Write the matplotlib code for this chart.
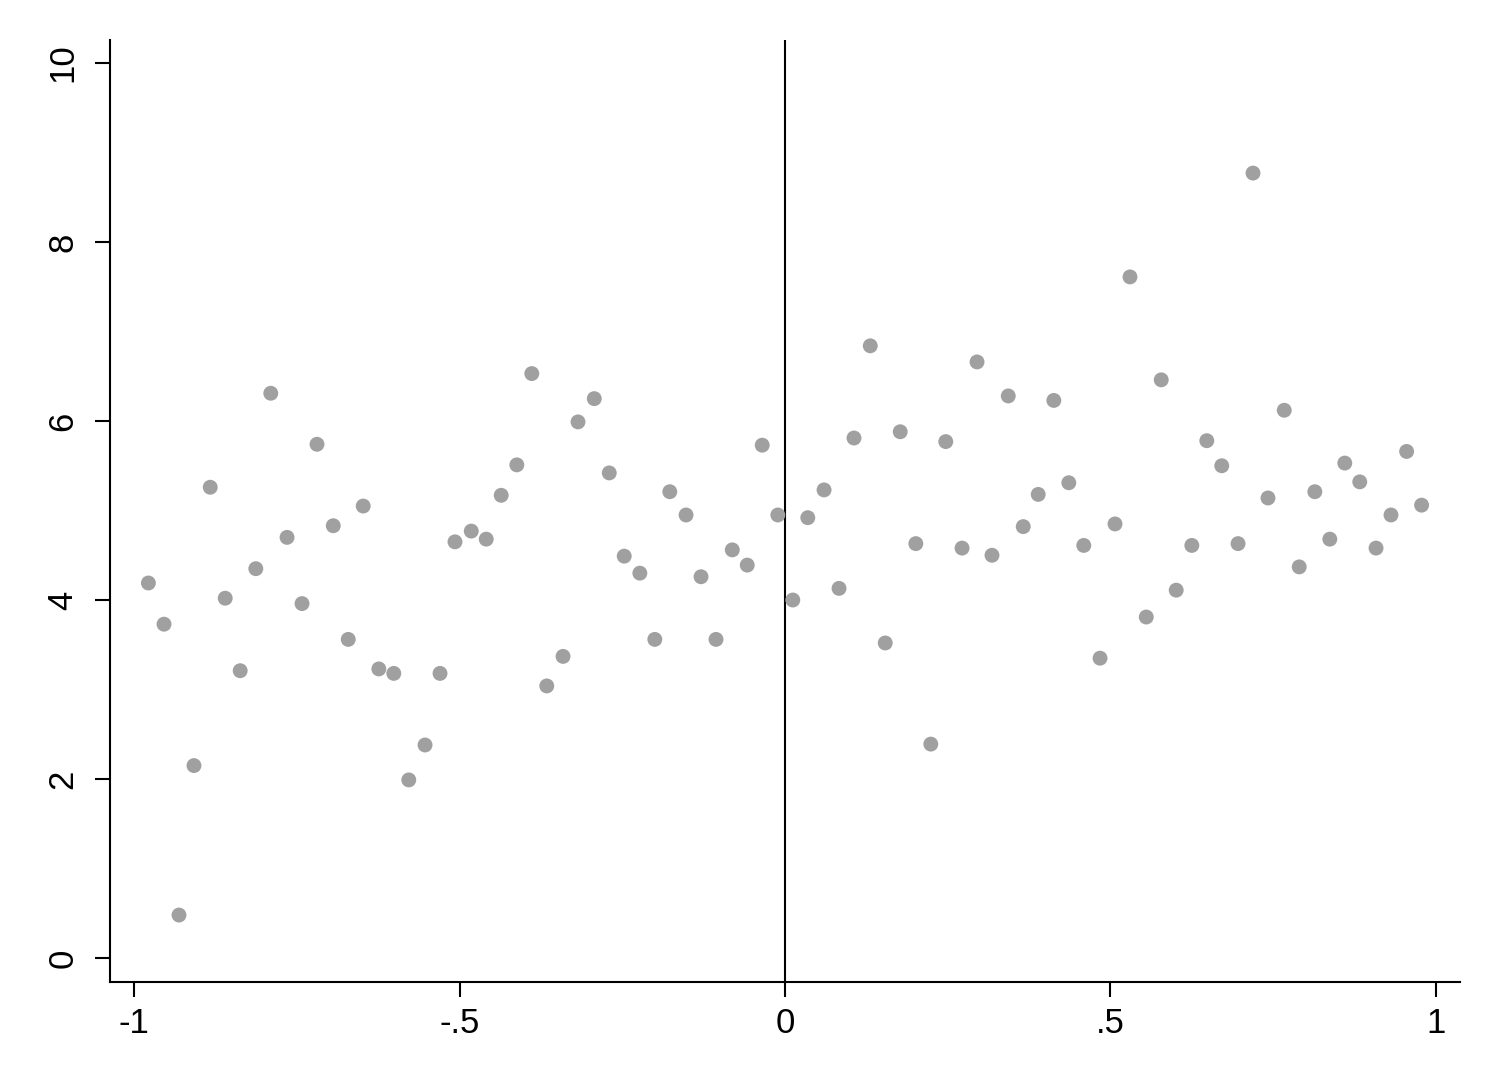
import matplotlib
matplotlib.use("Agg")
import matplotlib.pyplot as plt

x = [-0.978, -0.954, -0.931, -0.908, -0.883, -0.860, -0.837, -0.813, -0.790, -0.765,
     -0.742, -0.719, -0.694, -0.671, -0.648, -0.624, -0.601, -0.578, -0.553, -0.530,
     -0.507, -0.482, -0.459, -0.436, -0.412, -0.389, -0.366, -0.341, -0.318, -0.293,
     -0.270, -0.247, -0.223, -0.200, -0.177, -0.152, -0.129, -0.106, -0.081, -0.058,
     -0.035, -0.011, 0.012, 0.035, 0.060, 0.083, 0.106, 0.131, 0.154, 0.177,
     0.201, 0.224, 0.247, 0.272, 0.295, 0.318, 0.343, 0.366, 0.389, 0.413,
     0.436, 0.459, 0.484, 0.507, 0.530, 0.555, 0.578, 0.601, 0.625, 0.648,
     0.671, 0.696, 0.719, 0.742, 0.767, 0.790, 0.814, 0.837, 0.860, 0.883,
     0.908, 0.931, 0.955, 0.978]
y = [4.19, 3.73, 0.48, 2.15, 5.26, 4.02, 3.21, 4.35, 6.31, 4.70,
     3.96, 5.74, 4.83, 3.56, 5.05, 3.23, 3.18, 1.99, 2.38, 3.18,
     4.65, 4.77, 4.68, 5.17, 5.51, 6.53, 3.04, 3.37, 5.99, 6.25,
     5.42, 4.49, 4.30, 3.56, 5.21, 4.95, 4.26, 3.56, 4.56, 4.39,
     5.73, 4.95, 4.00, 4.92, 5.23, 4.13, 5.81, 6.84, 3.52, 5.88,
     4.63, 2.39, 5.77, 4.58, 6.66, 4.50, 6.28, 4.82, 5.18, 6.23,
     5.31, 4.61, 3.35, 4.85, 7.61, 3.81, 6.46, 4.11, 4.61, 5.78,
     5.50, 4.63, 8.77, 5.14, 6.12, 4.37, 5.21, 4.68, 5.53, 5.32,
     4.58, 4.95, 5.66, 5.06]
xticks = [-1, -0.5, 0, 0.5, 1]
xticklabels = ["-1", "-.5", "0", ".5", "1"]
yticks = [0, 2, 4, 6, 8, 10]
yticklabels = ["0", "2", "4", "6", "8", "10"]

plt.rcParams['font.family'] = ['Liberation Sans', 'DejaVu Sans']
fig = plt.figure(figsize=(15, 10.92), dpi=100)
ax = fig.add_axes([110/1500, 1 - 982/1092, 1350/1500, 942/1092])
ax.scatter(x, y, s=115, color="#a0a0a0", edgecolors="none", zorder=3)
ax.axvline(0, color="black", lw=1.5, zorder=2)
ax.set_xlim(-1.037, 1.037)
ax.set_ylim(-0.268, 10.257)
for s in ["top", "right"]:
    ax.spines[s].set_visible(False)
for s in ["left", "bottom"]:
    ax.spines[s].set_linewidth(1.5)
ax.set_xticks(xticks)
ax.set_xticklabels(xticklabels)
ax.set_yticks(yticks)
ax.set_yticklabels(yticklabels, rotation=90, va="center")
ax.tick_params(axis="both", direction="out", length=11, width=1.5, labelsize=25)
ax.tick_params(axis="x", pad=7)
ax.tick_params(axis="y", pad=11)
fig.savefig("out.png", dpi=100, facecolor="white")
